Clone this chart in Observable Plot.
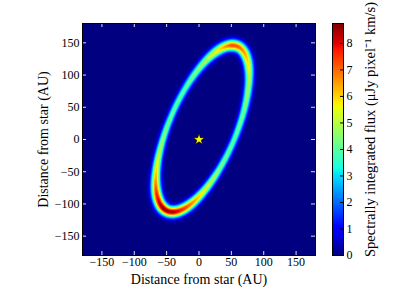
<!DOCTYPE html>
<html><head><meta charset="utf-8">
<script src="https://cdn.jsdelivr.net/npm/d3@7"></script>
<script src="https://cdn.jsdelivr.net/npm/@observablehq/plot@0.6"></script>
<style>
body{margin:0;background:#fff}
#wrap{position:relative;width:400px;height:300px}
#wrap svg{position:absolute;left:0;top:0}
#wrap svg, #wrap svg text{font-family:"Liberation Serif","Times New Roman",serif !important;font-variant-numeric:normal !important}
</style>
</head><body><div id="wrap"></div>
<script>
// ---- data ----
const axisTicks = [-150, -100, -50, 0, 50, 100, 150];
const axisDomain = [-180, 180];
const colorbarTicks = [0, 1, 2, 3, 4, 5, 6, 7, 8];
const fluxDomain = [0, 8.75];
const xLabel = "Distance from star (AU)";
const yLabel = "Distance from star (AU)";
const cbLabel = "Spectrally integrated flux (\u03bcJy pixel\u207b\u00b9 km/s)";
// ring geometry (AU)
const ringCenter = [4.5, 16];
const ringSemiAxes = [138.6, 51.8];
const ringTiltDeg = 23;
// peak flux and gaussian width sampled along the ring (angle from the upper-right end, clockwise)
const ringAngleDeg = [0, 20, 45, 70, 90, 110, 130, 150, 170, 190, 210, 230, 250, 270, 290, 310, 330, 350];
const ringPeakFlux = [7.2, 6.3, 5.0, 4.3, 4.0, 4.4, 5.6, 7.2, 8.5, 8.7, 7.6, 6.0, 4.7, 4.1, 4.0, 4.6, 5.7, 7.3];
const ringWidth = [6.0, 5.5, 4.7, 4.2, 4.0, 4.2, 4.7, 5.5, 6.0, 6.0, 5.5, 4.7, 4.2, 4.0, 4.2, 4.7, 5.5, 6.0];
const star = [{x: 0, y: 0}];

// ---- jet colormap (matplotlib segment data) ----
const jr = d3.scaleLinear([0, 0.35, 0.66, 0.89, 1], [0, 0, 1, 1, 0.5]).clamp(true);
const jg = d3.scaleLinear([0, 0.125, 0.375, 0.64, 0.91, 1], [0, 0, 1, 1, 0, 0]).clamp(true);
const jb = d3.scaleLinear([0, 0.11, 0.34, 0.65, 1], [0.5, 1, 1, 0, 0]).clamp(true);
const jet = t => `rgb(${Math.round(255 * jr(t))},${Math.round(255 * jg(t))},${Math.round(255 * jb(t))})`;
const colorScale = {type: "linear", domain: fluxDomain, interpolate: jet};
const fmt = d => (d < 0 ? "\u2212" + Math.abs(d) : String(d));

// ---- ring model ----
function periodicInterp(values, tDeg) {
  const n = ringAngleDeg.length;
  for (let i = 0; i < n; i++) {
    const a0 = ringAngleDeg[i], a1 = i + 1 < n ? ringAngleDeg[i + 1] : 360;
    if (tDeg >= a0 && tDeg <= a1) {
      const f = (tDeg - a0) / (a1 - a0);
      return values[i] * (1 - f) + values[(i + 1) % n] * f;
    }
  }
  return values[0];
}
const th = ringTiltDeg * Math.PI / 180;
const U = [Math.sin(th), Math.cos(th)], V = [Math.cos(th), -Math.sin(th)];
const [ra, rb] = ringSemiAxes, [cx, cy] = ringCenter;
const N = 720;
const samples = d3.range(N).map(k => {
  const tDeg = k * 360 / N, t = tDeg * Math.PI / 180;
  return {
    x: cx + ra * Math.cos(t) * U[0] + rb * Math.sin(t) * V[0],
    y: cy + ra * Math.cos(t) * U[1] + rb * Math.sin(t) * V[1],
    f: periodicInterp(ringPeakFlux, tDeg),
    s: periodicInterp(ringWidth, tDeg)
  };
});
function ringFlux(x, y) {
  const px = x - cx, py = y - cy;
  const pu = px * U[0] + py * U[1], pv = px * V[0] + py * V[1];
  const r = Math.hypot(pu / ra, pv / rb);
  if (r < 0.5 || r > 1.6) return 0;
  let best = Infinity, bi = 0;
  for (let k = 0; k < N; k++) {
    const dx = x - samples[k].x, dy = y - samples[k].y;
    const d2 = dx * dx + dy * dy;
    if (d2 < best) { best = d2; bi = k; }
  }
  const s = samples[bi];
  return s.f * Math.exp(-best / (2 * s.s * s.s));
}

const font = "Liberation Serif";
const W = 400, H = 300, mL = 82, mR = 85, mT = 23, mB = 45;
const frameW = W - mL - mR, frameH = H - mT - mB;

const main = Plot.plot({
  width: W, height: H, marginLeft: mL, marginRight: mR, marginTop: mT, marginBottom: mB,
  x: {domain: axisDomain, axis: null},
  y: {domain: axisDomain, axis: null},
  color: colorScale,
  style: {fontFamily: font, fontSize: "12px", background: "white", color: "black"},
  marks: [
    Plot.raster({fill: ringFlux, x1: axisDomain[0], x2: axisDomain[1], y1: axisDomain[0], y2: axisDomain[1], imageRendering: "pixelated"}),
    Plot.dot(star, {x: "x", y: "y", symbol: "star", r: 3.6, fill: "#ffff00", stroke: "black", strokeWidth: 0.6}),
    Plot.tickX(axisTicks, {x: d => d, insetTop: frameH - 4, stroke: "#dddddd"}),
    Plot.tickX(axisTicks, {x: d => d, insetBottom: frameH - 4, stroke: "#dddddd"}),
    Plot.tickY(axisTicks, {y: d => d, insetRight: frameW - 4, stroke: "#dddddd"}),
    Plot.tickY(axisTicks, {y: d => d, insetLeft: frameW - 4, stroke: "#dddddd"}),
    Plot.text(axisTicks, {x: d => d, text: fmt, frameAnchor: "bottom", lineAnchor: "top", dy: 2, fontSize: 12, fontFamily: font}),
    Plot.text(axisTicks, {y: d => d, text: fmt, frameAnchor: "left", textAnchor: "end", dx: -3, fontSize: 12, fontFamily: font}),
    Plot.frame({stroke: "black"}),
    Plot.text([xLabel], {text: d => d, frameAnchor: "bottom", dy: 28, lineAnchor: "bottom", fontSize: 14, fontFamily: font}),
    Plot.text([yLabel], {text: d => d, frameAnchor: "left", textAnchor: "middle", dx: -39, rotate: -90, fontSize: 14, fontFamily: font})
  ]
});

const cbL = 332, cbR = 343;
const colorbar = Plot.plot({
  width: W, height: H, marginLeft: cbL, marginRight: W - cbR, marginTop: mT, marginBottom: mB,
  x: {domain: [0, 1], axis: null},
  y: {domain: fluxDomain, axis: null},
  color: colorScale,
  style: {fontFamily: font, fontSize: "12px", background: "transparent", color: "black"},
  marks: [
    Plot.raster({fill: (x, y) => y, x1: 0, x2: 1, y1: fluxDomain[0], y2: fluxDomain[1]}),
    Plot.tickY(colorbarTicks, {y: d => d, insetLeft: cbR - cbL - 3, stroke: "black"}),
    Plot.text(colorbarTicks, {y: d => d, text: fmt, frameAnchor: "right", textAnchor: "start", dx: 3, fontSize: 12, fontFamily: font}),
    Plot.frame({stroke: "black"}),
    Plot.text([cbLabel], {text: d => d, frameAnchor: "right", textAnchor: "middle", dx: 27, dy: -10, rotate: -90, fontSize: 14.5, fontFamily: font})
  ]
});

const wrap = document.getElementById("wrap");
wrap.append(main, colorbar);
</script>
</body></html>
